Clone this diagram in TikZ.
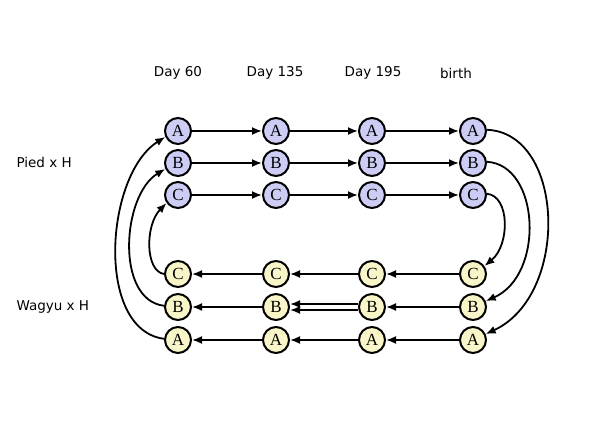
\documentclass[tikz,border=0pt]{standalone}
\usepackage{fontspec}
\setmainfont{Liberation Serif}
\newfontfamily\labfont{DejaVu Sans}
\usetikzlibrary{arrows.meta}
\definecolor{topfill}{RGB}{204,204,245}
\definecolor{botfill}{RGB}{248,246,200}
\begin{document}
\begin{tikzpicture}[x=1pt,y=-1pt,
  cell/.style={circle,draw=black,line width=2pt,minimum size=26pt,inner sep=0pt,font=\fontsize{17}{17}\selectfont},
  topcell/.style={cell,fill=topfill},
  botcell/.style={cell,fill=botfill},
  lab/.style={font=\labfont\fontsize{13.5}{15}\selectfont},
  conn/.style={line width=1.8pt,-{Latex[length=10pt,width=8pt]}}]
\useasboundingbox (0,0) rectangle (600,439);
% column labels
\node[lab] (d60) at (178,73) {Day 60};
\node[lab] (d135) at (275,73) {Day 135};
\node[lab] (d195) at (373,73) {Day 195};
\node[lab] (dbirth) at (456,73) {birth};
\node[lab,anchor=west] (pied) at (13,162) {Pied x H};
\node[lab,anchor=west] (wagyu) at (13,307) {Wagyu x H};
% nodes
\foreach \c/\x in {1/178,2/276,3/372,4/473}{
  \node[topcell] (tA\c) at (\x,131) {A};
  \node[topcell] (tB\c) at (\x,163) {B};
  \node[topcell] (tC\c) at (\x,195) {C};
  \node[botcell] (bC\c) at (\x,274) {C};
  \node[botcell] (bB\c) at (\x,307) {B};
  \node[botcell] (bA\c) at (\x,340) {A};
}
% top rows: forward arrows
\foreach \r in {A,B,C}{
  \draw[conn] (t\r1) -- (t\r2);
  \draw[conn] (t\r2) -- (t\r3);
  \draw[conn] (t\r3) -- (t\r4);
}
% bottom rows: backward arrows
\foreach \r in {A,C}{
  \draw[conn] (b\r4) -- (b\r3);
  \draw[conn] (b\r3) -- (b\r2);
  \draw[conn] (b\r2) -- (b\r1);
}
\draw[conn] (bB4) -- (bB3);
\draw[conn] ([yshift=3pt]bB3.west) -- ([yshift=3pt]bB2.east);
\draw[conn] ([yshift=-3pt]bB3.west) -- ([yshift=-3pt]bB2.east);
\draw[conn] (bB2) -- (bB1);
% left arcs
\draw[conn] (bA1.175) .. controls (95,330) and (105,175) .. (tA1.205);
\draw[conn] (bB1.175) .. controls (115,300) and (122,195) .. (tB1.205);
\draw[conn] (bC1.180) .. controls (145,271) and (145,225) .. (tC1.215);
% right arcs
\draw[conn] (tA4.5) .. controls (565,133) and (570,295) .. (bA4.25);
\draw[conn] (tB4.5) .. controls (540,165) and (545,275) .. (bB4.25);
\draw[conn] (tC4.5) .. controls (510,196) and (510,245) .. (bC4.35);
\end{tikzpicture}
\end{document}
